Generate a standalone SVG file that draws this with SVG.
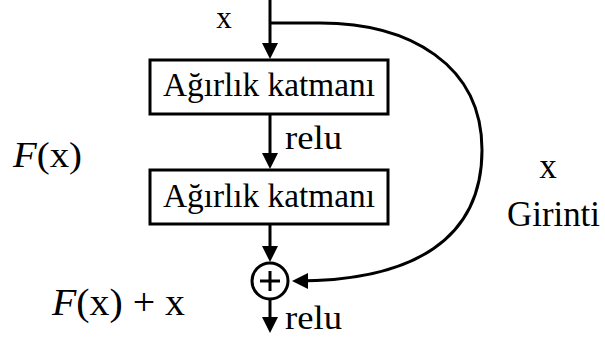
<svg xmlns="http://www.w3.org/2000/svg" width="605" height="338" viewBox="0 0 605 338">
<style>
.t{font-family:"Liberation Serif","Times New Roman",serif;fill:#000}
.box{fill:#fff;stroke:#000;stroke-width:3}
.ln{fill:none;stroke:#000;stroke-width:3}
</style>
<defs>
<marker id="ah" markerUnits="userSpaceOnUse" viewBox="0 0 16 16" refX="12" refY="8" markerWidth="16" markerHeight="16" orient="auto">
<path d="M0,0 L16,8 L0,16 z" fill="#000"/>
</marker>
</defs>
<rect width="605" height="338" fill="#fff"/>
<g id="connectors">
<line class="ln" x1="270" y1="0" x2="270" y2="55" marker-end="url(#ah)"/>
<line class="ln" x1="270" y1="115" x2="270" y2="165" marker-end="url(#ah)"/>
<line class="ln" x1="270" y1="224" x2="270" y2="258" marker-end="url(#ah)"/>
<line class="ln" x1="270" y1="300" x2="270" y2="329" marker-end="url(#ah)"/>
<path class="ln" d="M270,23 H320 C410,23 482,65 482,150 C482,238 415,281 296,281" marker-end="url(#ah)"/>
</g>
<g id="input-label"><text class="t" x="224" y="28" font-size="31" text-anchor="middle">x</text></g>
<g id="layer1">
<rect class="box" x="150" y="60" width="238" height="54"/>
<text class="t" x="163" y="96" font-size="33" textLength="212" lengthAdjust="spacingAndGlyphs">Ağırlık katmanı</text>
</g>
<g id="relu1"><text class="t" x="285" y="149" font-size="33" textLength="57" lengthAdjust="spacingAndGlyphs">relu</text></g>
<g id="layer2">
<rect class="box" x="150" y="170" width="238" height="54"/>
<text class="t" x="163" y="207" font-size="33" textLength="212" lengthAdjust="spacingAndGlyphs">Ağırlık katmanı</text>
</g>
<g id="sum">
<circle cx="270" cy="281" r="18" fill="#fff" stroke="#000" stroke-width="3"/>
<line class="ln" x1="260" y1="281" x2="280" y2="281"/>
<line class="ln" x1="270" y1="271" x2="270" y2="291"/>
</g>
<g id="relu2"><text class="t" x="285" y="329" font-size="33" textLength="57" lengthAdjust="spacingAndGlyphs">relu</text></g>
<g id="fx"><text class="t" x="13" y="167" font-size="36" textLength="69" lengthAdjust="spacingAndGlyphs"><tspan font-style="italic">F</tspan>(x)</text></g>
<g id="fxx"><text class="t" x="52" y="315" font-size="37" textLength="133" lengthAdjust="spacingAndGlyphs"><tspan font-style="italic">F</tspan>(x) + x</text></g>
<g id="identity">
<text class="t" x="548" y="178" font-size="35" text-anchor="middle">x</text>
<text class="t" x="507" y="226" font-size="35" textLength="93" lengthAdjust="spacingAndGlyphs">Girinti</text>
</g>
</svg>
